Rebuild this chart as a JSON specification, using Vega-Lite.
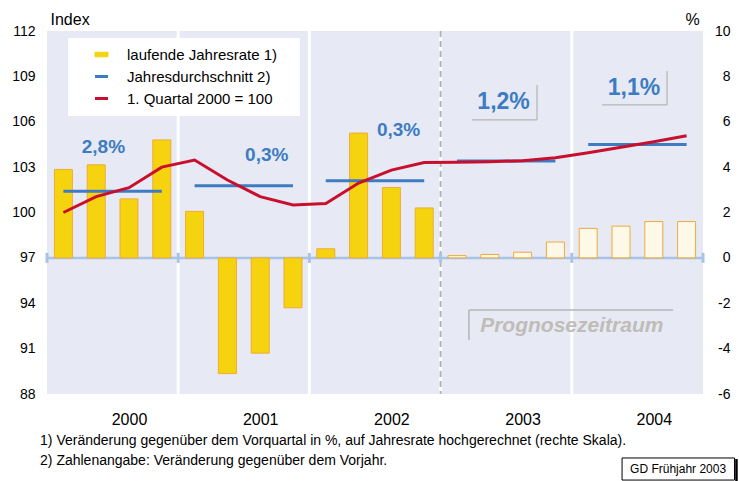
{
  "$schema": "https://vega.github.io/schema/vega-lite/v6.json",
  "width": 656,
  "height": 363,
  "autosize": "none",
  "padding": {"left": 47, "top": 31, "right": 36, "bottom": 87},
  "background": "white",
  "config": {
    "font": "Liberation Sans",
    "view": {"fill": "#e7eaf4", "stroke": null},
    "scale": {"continuousPadding": 0},
    "axis": {"grid": false, "domain": false, "ticks": false, "labelFont": "Liberation Sans", "labelColor": "black", "titleColor": "black", "titleFont": "Liberation Sans", "titleFontWeight": "normal"},
    "legend": {
      "orient": "none", "legendX": 21, "legendY": 7,
      "fillColor": "white", "padding": 9,
      "labelFontSize": 15, "labelFont": "Liberation Sans", "labelColor": "black",
      "symbolSize": 81, "rowPadding": 6, "labelOffset": 18, "symbolOffset": 17,
      "titleOrient": "right", "titleColor": "white", "titleFontSize": 10, "titlePadding": 2, "titleFontWeight": "normal"
    }
  },
  "datasets": {
    "quarters": [
      {"year": 2000, "q": 1, "t": 2000.125, "pct": 3.9, "index": 100.0, "avg": 101.4},
      {"year": 2000, "q": 2, "t": 2000.375, "pct": 4.1, "index": 101.05, "avg": 101.4},
      {"year": 2000, "q": 3, "t": 2000.625, "pct": 2.6, "index": 101.64, "avg": 101.4},
      {"year": 2000, "q": 4, "t": 2000.875, "pct": 5.2, "index": 103.0, "avg": 101.4},
      {"year": 2001, "q": 1, "t": 2001.125, "pct": 2.05, "index": 103.47, "avg": 101.77},
      {"year": 2001, "q": 2, "t": 2001.375, "pct": -5.1, "index": 102.15, "avg": 101.77},
      {"year": 2001, "q": 3, "t": 2001.625, "pct": -4.2, "index": 101.05, "avg": 101.77},
      {"year": 2001, "q": 4, "t": 2001.875, "pct": -2.2, "index": 100.5, "avg": 101.77},
      {"year": 2002, "q": 1, "t": 2002.125, "pct": 0.4, "index": 100.6, "avg": 102.1},
      {"year": 2002, "q": 2, "t": 2002.375, "pct": 5.5, "index": 101.95, "avg": 102.1},
      {"year": 2002, "q": 3, "t": 2002.625, "pct": 3.1, "index": 102.8, "avg": 102.1},
      {"year": 2002, "q": 4, "t": 2002.875, "pct": 2.2, "index": 103.3, "avg": 102.1},
      {"year": 2003, "q": 1, "t": 2003.125, "pct": 0.1, "index": 103.32, "avg": 103.4},
      {"year": 2003, "q": 2, "t": 2003.375, "pct": 0.15, "index": 103.36, "avg": 103.4},
      {"year": 2003, "q": 3, "t": 2003.625, "pct": 0.25, "index": 103.42, "avg": 103.4},
      {"year": 2003, "q": 4, "t": 2003.875, "pct": 0.7, "index": 103.62, "avg": 103.4},
      {"year": 2004, "q": 1, "t": 2004.125, "pct": 1.3, "index": 103.95, "avg": 104.5},
      {"year": 2004, "q": 2, "t": 2004.375, "pct": 1.4, "index": 104.31, "avg": 104.5},
      {"year": 2004, "q": 3, "t": 2004.625, "pct": 1.6, "index": 104.68, "avg": 104.5},
      {"year": 2004, "q": 4, "t": 2004.875, "pct": 1.6, "index": 105.08, "avg": 104.5}
    ],
    "years": [
      {"year": 2000}, {"year": 2001}, {"year": 2002}, {"year": 2003}, {"year": 2004}, {"year": 2005}
    ],
    "one": [{}]
  },
  "layer": [
    {
      "layer": [
        {
          "data": {"name": "years"},
          "transform": [{"filter": "datum.year > 2000 && datum.year < 2005"}],
          "mark": {"type": "rule", "color": "white", "strokeWidth": 3},
          "encoding": {
            "x": {"field": "year", "type": "quantitative",
              "scale": {"domain": [2000, 2005], "nice": false, "zero": false, "padding": 0},
              "axis": {"values": [2000.625, 2001.625, 2002.625, 2003.625, 2004.625], "labelExpr": "floor(datum.value)", "labelFontSize": 16, "labelPadding": 17, "title": null}}
          }
        },
        {
          "data": {"name": "years"},
          "transform": [{"filter": "datum.year == 2003"}],
          "mark": {"type": "rule", "color": "#b2b2b2", "strokeWidth": 2, "strokeDash": [6, 4]},
          "encoding": {"x": {"field": "year", "type": "quantitative"}}
        },
        {
          "data": {"name": "one"},
          "mark": {"type": "rule", "color": "#a9c3e6", "strokeWidth": 2.5},
          "encoding": {
            "x": {"datum": 2000, "type": "quantitative"},
            "x2": {"datum": 2005},
            "y": {"datum": 0, "type": "quantitative",
              "scale": {"domain": [-6, 10], "nice": false, "zero": false, "padding": 0},
              "axis": {"orient": "right", "values": [-6, -4, -2, 0, 2, 4, 6, 8, 10], "labelExpr": "'' + datum.value", "labelFontSize": 14, "labelAlign": "right", "labelPadding": 27, "title": "%", "titleAngle": 0, "titleFontSize": 16, "titleX": -18, "titleY": -7, "titleAlign": "left", "titleBaseline": "alphabetic"}}
          }
        },
        {
          "data": {"name": "years"},
          "mark": {"type": "rule", "color": "#a9c3e6", "strokeWidth": 3},
          "encoding": {
            "x": {"field": "year", "type": "quantitative"},
            "y": {"datum": -0.22, "type": "quantitative"},
            "y2": {"datum": 0.22}
          }
        },
        {
          "data": {"name": "quarters"},
          "mark": {"type": "bar", "size": 18, "stroke": "#f0aa35", "strokeWidth": 1},
          "encoding": {
            "x": {"field": "t", "type": "quantitative"},
            "y": {"field": "pct", "type": "quantitative"},
            "y2": {"datum": 0},
            "color": {
              "condition": {"test": "datum.year >= 2003", "value": "#fdf8e8"},
              "datum": "laufende Jahresrate 1)",
              "type": "nominal",
              "scale": {"domain": ["laufende Jahresrate 1)", "Jahresdurchschnitt 2)", "1. Quartal 2000 = 100"], "range": ["#f5d40f", "#3d7cc2", "#c8102e"]},
              "legend": {
                "title": "__",
                "encode": {"symbols": {"update": {
                  "shape": {"signal": "datum.value === 'laufende Jahresrate 1)' ? 'M-1.45,-0.5H1.45V0.5H-1.45Z' : 'M-1.45,0H1.45'"},
                  "fill": {"signal": "datum.value === 'laufende Jahresrate 1)' ? '#f5d40f' : 'transparent'"},
                  "stroke": {"signal": "datum.value === 'laufende Jahresrate 1)' ? '#f0aa35' : scale('color', datum.value)"},
                  "strokeWidth": {"signal": "datum.value === 'laufende Jahresrate 1)' ? 1 : 3"},
                  "opacity": {"value": 1}
                }}}
              }
            }
          }
        }
      ]
    },
    {
      "layer": [
        {
          "data": {"name": "quarters"},
          "mark": {"type": "line", "strokeWidth": 3},
          "encoding": {
            "x": {"field": "t", "type": "quantitative"},
            "y": {"field": "avg", "type": "quantitative",
              "scale": {"domain": [88, 112], "nice": false, "zero": false, "padding": 0},
              "axis": {"orient": "left", "values": [88, 91, 94, 97, 100, 103, 106, 109, 112], "labelFontSize": 14, "labelPadding": 12, "title": "Index", "titleAngle": 0, "titleFontSize": 16, "titleX": 3, "titleY": -7, "titleAlign": "left", "titleBaseline": "alphabetic"}},
            "detail": {"field": "year", "type": "nominal"},
            "color": {"datum": "Jahresdurchschnitt 2)", "type": "nominal",
              "legend": {
                "title": "__",
                "encode": {"symbols": {"update": {
                  "shape": {"signal": "datum.value === 'laufende Jahresrate 1)' ? 'M-1.45,-0.5H1.45V0.5H-1.45Z' : 'M-1.45,0H1.45'"},
                  "fill": {"signal": "datum.value === 'laufende Jahresrate 1)' ? '#f5d40f' : 'transparent'"},
                  "stroke": {"signal": "datum.value === 'laufende Jahresrate 1)' ? '#f0aa35' : scale('color', datum.value)"},
                  "strokeWidth": {"signal": "datum.value === 'laufende Jahresrate 1)' ? 1 : 3"},
                  "opacity": {"value": 1}
                }}}
              }}
          }
        },
        {
          "data": {"name": "quarters"},
          "mark": {"type": "line", "strokeWidth": 3},
          "encoding": {
            "x": {"field": "t", "type": "quantitative"},
            "y": {"field": "index", "type": "quantitative"},
            "color": {"datum": "1. Quartal 2000 = 100", "type": "nominal",
              "legend": {
                "title": "__",
                "encode": {"symbols": {"update": {
                  "shape": {"signal": "datum.value === 'laufende Jahresrate 1)' ? 'M-1.45,-0.5H1.45V0.5H-1.45Z' : 'M-1.45,0H1.45'"},
                  "fill": {"signal": "datum.value === 'laufende Jahresrate 1)' ? '#f5d40f' : 'transparent'"},
                  "stroke": {"signal": "datum.value === 'laufende Jahresrate 1)' ? '#f0aa35' : scale('color', datum.value)"},
                  "strokeWidth": {"signal": "datum.value === 'laufende Jahresrate 1)' ? 1 : 3"},
                  "opacity": {"value": 1}
                }}}
              }}
          }
        },
        {
          "data": {"name": "one"},
          "mark": {"type": "text", "text": "2,8%", "font": "Liberation Sans", "fontSize": 19, "fontWeight": "bold", "color": "#3d7cc2", "baseline": "middle"},
          "encoding": {"x": {"datum": 2000.43, "type": "quantitative"}, "y": {"datum": 104.36, "type": "quantitative"}}
        },
        {
          "data": {"name": "one"},
          "mark": {"type": "text", "text": "0,3%", "font": "Liberation Sans", "fontSize": 19, "fontWeight": "bold", "color": "#3d7cc2", "baseline": "middle"},
          "encoding": {"x": {"datum": 2001.675, "type": "quantitative"}, "y": {"datum": 103.83, "type": "quantitative"}}
        },
        {
          "data": {"name": "one"},
          "mark": {"type": "text", "text": "0,3%", "font": "Liberation Sans", "fontSize": 19, "fontWeight": "bold", "color": "#3d7cc2", "baseline": "middle"},
          "encoding": {"x": {"datum": 2002.68, "type": "quantitative"}, "y": {"datum": 105.45, "type": "quantitative"}}
        },
        {
          "data": {"name": "one"},
          "mark": {"type": "text", "text": "1,2%", "font": "Liberation Sans", "fontSize": 23, "fontWeight": "bold", "color": "#3d7cc2", "baseline": "middle"},
          "encoding": {"x": {"datum": 2003.48, "type": "quantitative"}, "y": {"datum": 107.32, "type": "quantitative"}}
        },
        {
          "data": {"name": "one"},
          "mark": {"type": "text", "text": "1,1%", "font": "Liberation Sans", "fontSize": 23, "fontWeight": "bold", "color": "#3d7cc2", "baseline": "middle"},
          "encoding": {"x": {"datum": 2004.474, "type": "quantitative"}, "y": {"datum": 108.26, "type": "quantitative"}}
        },
        {
          "data": {"name": "one"},
          "mark": {"type": "rule", "color": "#b4b4b4", "strokeWidth": 1.2},
          "encoding": {"x": {"datum": 2003.735, "type": "quantitative"}, "y": {"datum": 108.43, "type": "quantitative"}, "y2": {"datum": 106.12}}
        },
        {
          "data": {"name": "one"},
          "mark": {"type": "rule", "color": "#b4b4b4", "strokeWidth": 1.2},
          "encoding": {"x": {"datum": 2003.239, "type": "quantitative"}, "x2": {"datum": 2003.735}, "y": {"datum": 106.12, "type": "quantitative"}}
        },
        {
          "data": {"name": "one"},
          "mark": {"type": "rule", "color": "#b4b4b4", "strokeWidth": 1.2},
          "encoding": {"x": {"datum": 2004.726, "type": "quantitative"}, "y": {"datum": 109.36, "type": "quantitative"}, "y2": {"datum": 107.11}}
        },
        {
          "data": {"name": "one"},
          "mark": {"type": "rule", "color": "#b4b4b4", "strokeWidth": 1.2},
          "encoding": {"x": {"datum": 2004.23, "type": "quantitative"}, "x2": {"datum": 2004.726}, "y": {"datum": 107.11, "type": "quantitative"}}
        },
        {
          "data": {"name": "one"},
          "mark": {"type": "rule", "color": "#b4b4b8", "strokeWidth": 1.5},
          "encoding": {"x": {"datum": 2003.216, "type": "quantitative"}, "y": {"datum": 93.55, "type": "quantitative"}, "y2": {"datum": 91.57}}
        },
        {
          "data": {"name": "one"},
          "mark": {"type": "rule", "color": "#b4b4b8", "strokeWidth": 1.5},
          "encoding": {"x": {"datum": 2003.216, "type": "quantitative"}, "x2": {"datum": 2004.771}, "y": {"datum": 93.55, "type": "quantitative"}}
        },
        {
          "data": {"name": "one"},
          "mark": {"type": "text", "text": "Prognosezeitraum", "font": "Liberation Sans", "fontSize": 21, "fontWeight": "bold", "fontStyle": "italic", "color": "#c0bcb8", "baseline": "middle"},
          "encoding": {"x": {"datum": 2004.0, "type": "quantitative"}, "y": {"datum": 92.5, "type": "quantitative"}}
        },
        {
          "data": {"name": "one"},
          "mark": {"type": "text", "text": "1) Veränderung gegenüber dem Vorquartal in %, auf Jahresrate hochgerechnet (rechte Skala).", "font": "Liberation Sans", "fontSize": 14, "color": "black", "align": "left", "baseline": "alphabetic"},
          "encoding": {"x": {"datum": 1999.947, "type": "quantitative"}, "y": {"datum": 84.63, "type": "quantitative"}}
        },
        {
          "data": {"name": "one"},
          "mark": {"type": "text", "text": "2) Zahlenangabe: Veränderung gegenüber dem Vorjahr.", "font": "Liberation Sans", "fontSize": 14, "color": "black", "align": "left", "baseline": "alphabetic"},
          "encoding": {"x": {"datum": 1999.947, "type": "quantitative"}, "y": {"datum": 83.31, "type": "quantitative"}}
        },
        {
          "data": {"name": "one"},
          "mark": {"type": "rect", "fill": "white", "stroke": "black", "strokeWidth": 1},
          "encoding": {"x": {"datum": 2004.383, "type": "quantitative"}, "x2": {"datum": 2005.24}, "y": {"datum": 83.77, "type": "quantitative"}, "y2": {"datum": 82.31}}
        },
        {
          "data": {"name": "one"},
          "mark": {"type": "rule", "color": "black", "strokeWidth": 2.5},
          "encoding": {"x": {"datum": 2005.255, "type": "quantitative"}, "y": {"datum": 83.7, "type": "quantitative"}, "y2": {"datum": 82.2}}
        },
        {
          "data": {"name": "one"},
          "mark": {"type": "text", "text": "GD Frühjahr 2003", "font": "Liberation Sans", "fontSize": 12, "color": "black", "baseline": "middle"},
          "encoding": {"x": {"datum": 2004.81, "type": "quantitative"}, "y": {"datum": 83.04, "type": "quantitative"}}
        }
      ]
    }
  ],
  "resolve": {"scale": {"y": "independent"}}
}
